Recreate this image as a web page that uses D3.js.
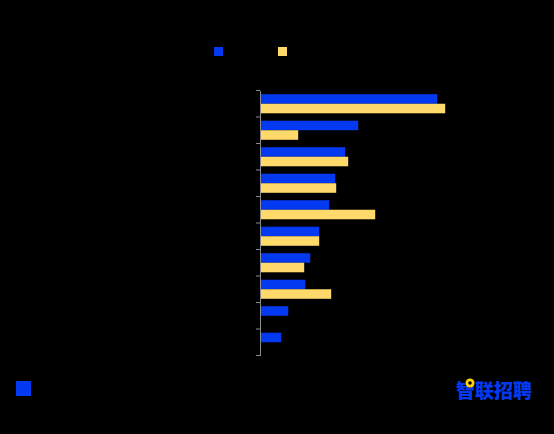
<!DOCTYPE html>
<html>
<head>
<meta charset="utf-8">
<script src="https://cdn.jsdelivr.net/npm/d3@7"></script>
<style>
  html, body { margin: 0; padding: 0; background: #000; }
  text { font-family: "Noto Sans CJK SC", "Noto Sans", sans-serif; }
</style>
</head>
<body>
<svg id="chart" width="554" height="434"></svg>
<script>
// data
const categories = ['薪酬福利', '职业发展', '工作环境', '企业文化', '工作稳定', '团队氛围', '通勤距离', '领导风格', '行业前景', '其他'];
const seriesNames = ['2023年', '2024年'];
const blueValues = [35.3, 19.5, 16.9, 14.9, 13.7, 11.7, 9.9, 8.9, 5.5, 4.1];
const yellowValues = [36.9, 7.5, 17.5, 15.1, 22.9, 11.7, 8.7, 14.1, 0, 0];
const colors = ['#0339f0', '#ffd96a'];

const svg = d3.select('#chart');
const width = +svg.attr('width');
const height = +svg.attr('height');

svg.append('rect').attr('width', width).attr('height', height).attr('fill', '#000');

const data = categories.map((c, i) => ({ cat: c, values: [blueValues[i], yellowValues[i]] }));

const x = d3.scaleLinear().domain([0, 50]).range([260.7, 510.7]);
const y = d3.scaleBand().domain(categories).range([90.5, 355.5])
    .paddingInner(0.28).paddingOuter(0.14);
const ySub = d3.scaleBand().domain(seriesNames).range([0, y.bandwidth()]);

// title (black on black, as in the reference)
svg.append('text')
    .attr('x', width / 2).attr('y', 24)
    .attr('text-anchor', 'middle')
    .attr('font-size', 15).attr('font-weight', 'bold')
    .attr('fill', '#000')
    .text('求职者选择工作时最看重的因素');

// legend
const legend = svg.append('g');
seriesNames.forEach((s, i) => {
    const lx = 214 + i * 64;
    legend.append('rect').attr('x', lx).attr('y', 47).attr('width', 9).attr('height', 9).attr('fill', colors[i]);
    legend.append('text').attr('x', lx + 14).attr('y', 55).attr('font-size', 11).attr('fill', '#000').text(s);
});

// bars
const groups = svg.append('g').selectAll('g').data(data).join('g')
    .attr('transform', d => `translate(0,${y(d.cat)})`);

groups.selectAll('rect').data(d => d.values.map((v, i) => ({ v, i })))
    .join('rect')
    .attr('x', x(0))
    .attr('y', d => ySub(seriesNames[d.i]))
    .attr('width', d => x(d.v) - x(0))
    .attr('height', ySub.bandwidth())
    .attr('fill', d => colors[d.i]);

groups.selectAll('text.val').data(d => d.values.map((v, i) => ({ v, i })))
    .join('text')
    .attr('class', 'val')
    .attr('x', d => x(d.v) + 9)
    .attr('y', d => ySub(seriesNames[d.i]) + ySub.bandwidth() / 2 + 3)
    .attr('font-size', 8)
    .attr('fill', '#000')
    .text(d => d.v.toFixed(1) + '%');

// y axis
const yAxis = d3.axisLeft(y).tickSize(0).tickSizeOuter(0).tickPadding(8);
const yAxisG = svg.append('g')
    .attr('transform', 'translate(260,0)')
    .call(yAxis);
yAxisG.select('.domain').attr('stroke', '#8c8c8c');
yAxisG.selectAll('.tick line').remove();
yAxisG.selectAll('.tick text').attr('fill', '#000').attr('font-size', 11);

// boundary ticks between categories
const bounds = d3.range(categories.length + 1).map(i => 90.5 + i * y.step());
svg.append('g').selectAll('line').data(bounds).join('line')
    .attr('x1', 256).attr('x2', 260)
    .attr('y1', d => d).attr('y2', d => d)
    .attr('stroke', '#8c8c8c');

// source note
svg.append('rect').attr('x', 16).attr('y', 381).attr('width', 15).attr('height', 15).attr('fill', colors[0]);
svg.append('text').attr('x', 38).attr('y', 393).attr('font-size', 11).attr('fill', '#000')
    .text('数据来源：智联招聘调研');

// logo
svg.append('text')
    .attr('x', 532).attr('y', 398)
    .attr('text-anchor', 'end')
    .attr('font-size', 19).attr('font-weight', 900)
    .attr('fill', colors[0])
    .text('智联招聘');
svg.append('circle').attr('cx', 470).attr('cy', 383).attr('r', 4.5).attr('fill', '#ffd400');
svg.append('circle').attr('cx', 470).attr('cy', 383).attr('r', 1.8).attr('fill', '#000');
</script>
</body>
</html>
